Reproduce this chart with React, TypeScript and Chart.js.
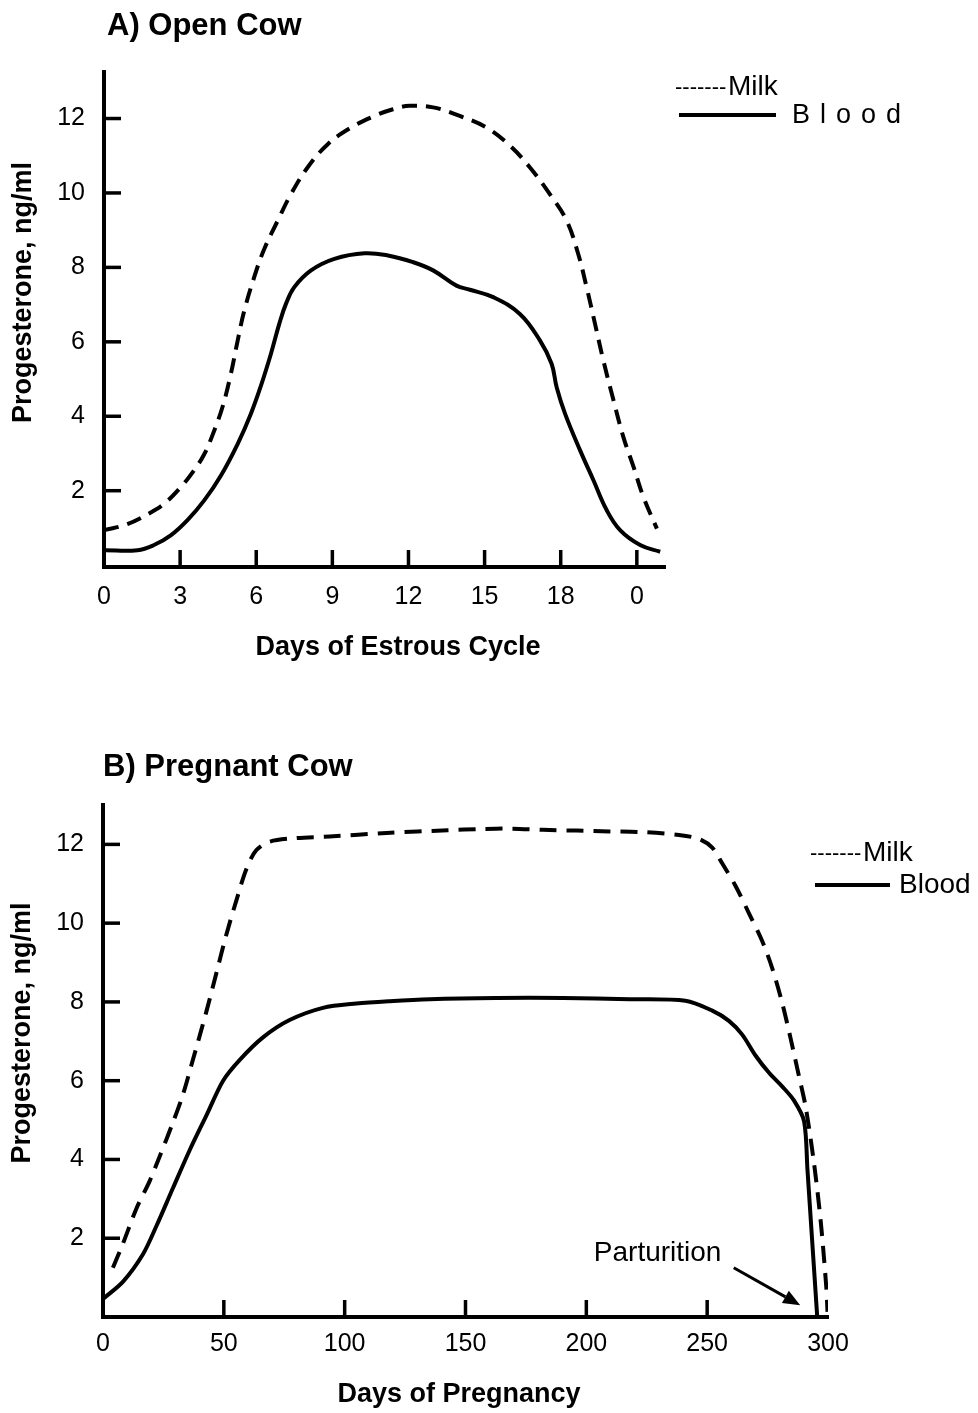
import React, { useEffect, useRef } from "react";
import { Chart, registerables } from "chart.js";

Chart.register(...registerables);

const FONT = '"Liberation Sans", Arial, Helvetica, sans-serif';

// ---------- text ----------
const A_TITLE = "A) Open Cow";
const B_TITLE = "B) Pregnant Cow";
const Y_TITLE = "Progesterone, ng/ml";
const A_X_TITLE = "Days of Estrous Cycle";
const B_X_TITLE = "Days of Pregnancy";
const MILK_LABEL = "Milk";
const BLOOD_LABEL = "Blood";
const LEGEND_DASHES = "-------";
const PARTURITION = "Parturition";

// ---------- ticks ----------
const Y_TICKS = [2, 4, 6, 8, 10, 12];
const A_X_TICKS = [0, 3, 6, 9, 12, 15, 18, 21];
const A_X_TICK_LABELS = ["0", "3", "6", "9", "12", "15", "18", "0"];
const B_X_TICKS = [0, 50, 100, 150, 200, 250, 300];
const B_X_TICK_LABELS = ["0", "50", "100", "150", "200", "250", "300"];

// ---------- A) Open cow (days of estrous cycle) ----------
const A_MILK_DAYS = [0, 0.92, 1.78, 2.37, 3.03, 3.55, 3.95, 4.28, 4.67, 5.0, 5.27, 5.53, 5.92, 6.32, 6.85, 7.37, 8.03, 8.82, 9.74, 10.66, 11.39, 12.05, 12.97, 14.02, 15.07, 16.0, 16.78, 17.57, 18.23, 18.69, 19.02, 19.35, 19.68, 20.08, 20.47, 20.87, 21.26, 21.79];
const A_MILK = [0.94, 1.1, 1.39, 1.65, 2.1, 2.55, 2.98, 3.5, 4.25, 5.14, 6.04, 6.84, 7.74, 8.5, 9.26, 9.97, 10.69, 11.31, 11.76, 12.07, 12.25, 12.34, 12.3, 12.07, 11.76, 11.27, 10.69, 9.97, 9.26, 8.36, 7.47, 6.49, 5.5, 4.43, 3.44, 2.64, 1.83, 0.98];
const A_BLOOD_DAYS = [0, 1.32, 1.97, 2.63, 3.29, 3.95, 4.61, 5.27, 5.79, 6.19, 6.58, 6.91, 7.17, 7.5, 8.16, 9.08, 10.27, 11.19, 12.18, 12.97, 13.89, 14.42, 15.34, 16.39, 17.18, 17.64, 17.84, 18.17, 18.76, 19.29, 19.81, 20.34, 21.13, 21.92];
const A_BLOOD = [0.4, 0.4, 0.54, 0.8, 1.21, 1.74, 2.41, 3.26, 4.07, 4.83, 5.68, 6.49, 7.02, 7.47, 7.92, 8.23, 8.38, 8.32, 8.14, 7.92, 7.51, 7.4, 7.2, 6.75, 6.04, 5.41, 4.78, 4.07, 3.09, 2.28, 1.48, 0.94, 0.54, 0.36];

// ---------- B) Pregnant cow (days of pregnancy) ----------
const B_MILK_DAYS = [4.1, 8.3, 13.8, 19.3, 23.4, 29.0, 33.1, 37.2, 42.8, 46.9, 51.0, 55.2, 59.3, 63.4, 69.0, 80.0, 93.8, 117.3, 142.7, 155.9, 169.0, 182.0, 195.9, 209.6, 224.4, 238.3, 246.5, 252.1, 256.2, 261.7, 267.3, 272.8, 277.0, 281.1, 284.5, 288.0, 290.8, 294.2, 297.0, 299.3, 299.8];
const B_MILK = [1.25, 1.87, 2.75, 3.45, 4.07, 4.95, 5.65, 6.53, 7.76, 8.73, 9.7, 10.58, 11.37, 11.85, 12.07, 12.16, 12.2, 12.29, 12.36, 12.39, 12.4, 12.37, 12.35, 12.33, 12.31, 12.24, 12.14, 11.92, 11.52, 10.95, 10.25, 9.54, 8.84, 7.96, 7.08, 6.11, 5.32, 3.91, 2.42, 0.75, 0.13];
const B_BLOOD_DAYS = [0, 8.3, 16.6, 22.1, 29.0, 35.9, 42.8, 49.7, 56.6, 66.2, 77.2, 91.0, 104.8, 118.6, 135.2, 162.8, 190.3, 217.9, 241.0, 252.1, 259.0, 264.5, 270.0, 275.6, 281.1, 285.9, 290.1, 291.5, 293.4, 295.5];
const B_BLOOD = [0.46, 0.9, 1.6, 2.31, 3.28, 4.24, 5.12, 6.0, 6.53, 7.1, 7.54, 7.85, 7.96, 8.02, 8.07, 8.1, 8.1, 8.07, 8.03, 7.78, 7.52, 7.17, 6.64, 6.2, 5.85, 5.5, 4.97, 3.74, 1.98, 0.04];

// annotation anchors (data units)
const PARTURITION_TEXT_AT = [229.5, 1.63];
const PARTURITION_ARROW = [[261, 1.25], [288.5, 0.3]];

function pts(xs: number[], ys: number[]) {
  return xs.map((x, i) => ({ x, y: ys[i] }));
}

function drawText(ctx: CanvasRenderingContext2D, s: string, x: number, y: number, font: string, align: CanvasTextAlign = "left", spacing = 0) {
  ctx.save();
  ctx.font = font;
  ctx.fillStyle = "#000";
  ctx.textAlign = align;
  ctx.textBaseline = "middle";
  if (spacing) (ctx as any).letterSpacing = spacing + "px";
  ctx.fillText(s, x, y);
  ctx.restore();
}

function line(ctx: CanvasRenderingContext2D, x1: number, y1: number, x2: number, y2: number, w: number) {
  ctx.save();
  ctx.strokeStyle = "#000";
  ctx.lineWidth = w;
  ctx.lineCap = "butt";
  ctx.beginPath();
  ctx.moveTo(x1, y1);
  ctx.lineTo(x2, y2);
  ctx.stroke();
  ctx.restore();
}

type Panel = {
  milk: { x: number; y: number }[];
  blood: { x: number; y: number }[];
  xMax: number;
  yMin: number;
  yMax: number;
  xTicks: number[];
  xTickLabels: string[];
  dash: number[];
  tension: number;
  pad: { top: number; right: number };
  yWidth: number;
  xHeight: number;
  xTickPad: number;
  decorate: (chart: any) => void;
};

function inwardTicks(chart: any, xTicks: number[]) {
  const { ctx, chartArea: a, scales } = chart;
  const x = scales.x;
  const y = scales.y;
  for (const v of xTicks) {
    if (v <= x.min || v >= x.max) continue;
    const px = x.getPixelForValue(v);
    line(ctx, px, a.bottom, px, a.bottom - 17, 3.5);
  }
  for (const v of Y_TICKS) {
    const py = y.getPixelForValue(v);
    line(ctx, a.left, py, a.left + 17, py, 3.5);
  }
}

function buildConfig(p: Panel): any {
  return {
    type: "line",
    data: {
      datasets: [
        { label: MILK_LABEL, data: p.milk, borderColor: "#000", borderWidth: 4, borderDash: p.dash, borderCapStyle: "butt", pointRadius: 0, fill: false, tension: p.tension },
        { label: BLOOD_LABEL, data: p.blood, borderColor: "#000", borderWidth: 4, pointRadius: 0, fill: false, tension: p.tension },
      ],
    },
    options: {
      responsive: false,
      animation: false,
      devicePixelRatio: 1,
      events: [],
      layout: { padding: { top: p.pad.top, right: p.pad.right, left: 0, bottom: 0 } },
      plugins: { legend: { display: false }, tooltip: { enabled: false }, title: { display: false } },
      scales: {
        x: {
          type: "linear",
          min: 0,
          max: p.xMax,
          afterBuildTicks: (s: any) => { s.ticks = p.xTicks.map((v) => ({ value: v })); },
          afterFit: (s: any) => { s.height = p.xHeight; },
          grid: { display: false, drawTicks: false },
          border: { display: true, color: "#000", width: 4 },
          ticks: {
            color: "#000",
            font: { family: FONT, size: 25 },
            padding: p.xTickPad,
            autoSkip: false,
            maxRotation: 0,
            callback: (_v: any, i: number) => p.xTickLabels[i],
          },
        },
        y: {
          type: "linear",
          min: p.yMin,
          max: p.yMax,
          afterBuildTicks: (s: any) => { s.ticks = Y_TICKS.map((v) => ({ value: v })); },
          afterFit: (s: any) => { s.width = p.yWidth; },
          grid: { display: false, drawTicks: false },
          border: { display: true, color: "#000", width: 4 },
          ticks: { color: "#000", font: { family: FONT, size: 25 }, padding: 19, autoSkip: false },
        },
      },
    },
    plugins: [
      {
        id: "decor",
        afterDraw: (chart: any) => {
          inwardTicks(chart, p.xTicks);
          p.decorate(chart);
        },
      },
    ],
  };
}

function yTitle(chart: any, offset: number) {
  const { ctx, chartArea: a } = chart;
  ctx.save();
  ctx.translate(a.left - 80, (a.top + a.bottom) / 2 + offset);
  ctx.rotate(-Math.PI / 2);
  drawText(ctx, Y_TITLE, 0, 0, `bold 27px ${FONT}`, "center");
  ctx.restore();
}

const panelA: Panel = {
  milk: pts(A_MILK_DAYS, A_MILK),
  blood: pts(A_BLOOD_DAYS, A_BLOOD),
  xMax: 22.11,
  yMin: -0.05,
  yMax: 13.25,
  xTicks: A_X_TICKS,
  xTickLabels: A_X_TICK_LABELS,
  dash: [15, 9],
  tension: 0.4,
  pad: { top: 72, right: 313 },
  yWidth: 104,
  xHeight: 133,
  xTickPad: 15,
  decorate: (chart: any) => {
    const { ctx, chartArea: a } = chart;
    drawText(ctx, A_TITLE, a.left + 3, a.top - 46, `bold 31px ${FONT}`);
    yTitle(chart, -27);
    drawText(ctx, A_X_TITLE, a.left + 0.524 * (a.right - a.left), a.bottom + 81, `bold 27px ${FONT}`, "center");
    // legend
    drawText(ctx, LEGEND_DASHES, a.right + 10, a.top + 16, `22px ${FONT}`);
    drawText(ctx, MILK_LABEL, a.right + 63, a.top + 15, `28px ${FONT}`);
    line(ctx, a.right + 14, a.top + 43, a.right + 111, a.top + 43, 4);
    drawText(ctx, BLOOD_LABEL, a.right + 127, a.top + 44, `27px ${FONT}`, "left", 10);
  },
};

const panelB: Panel = {
  milk: pts(B_MILK_DAYS, B_MILK),
  blood: pts(B_BLOOD_DAYS, B_BLOOD),
  xMax: 300,
  yMin: 0,
  yMax: 13,
  xTicks: B_X_TICKS,
  xTickLabels: B_X_TICK_LABELS,
  dash: [17, 10],
  tension: 0.3,
  pad: { top: 105, right: 150 },
  yWidth: 103,
  xHeight: 96,
  xTickPad: 12,
  decorate: (chart: any) => {
    const { ctx, chartArea: a, scales } = chart;
    const x = scales.x;
    const y = scales.y;
    drawText(ctx, B_TITLE, a.left, a.top - 38, `bold 31px ${FONT}`);
    yTitle(chart, -28);
    drawText(ctx, B_X_TITLE, a.left + 0.491 * (a.right - a.left), a.bottom + 78, `bold 27px ${FONT}`, "center");
    // legend
    drawText(ctx, LEGEND_DASHES, a.right - 18, a.top + 49, `22px ${FONT}`);
    drawText(ctx, MILK_LABEL, a.right + 35, a.top + 48, `28px ${FONT}`);
    line(ctx, a.right - 13, a.top + 80, a.right + 62, a.top + 80, 4);
    drawText(ctx, BLOOD_LABEL, a.right + 71, a.top + 80, `28px ${FONT}`);
    // parturition annotation
    drawText(ctx, PARTURITION, x.getPixelForValue(PARTURITION_TEXT_AT[0]), y.getPixelForValue(PARTURITION_TEXT_AT[1]), `28px ${FONT}`, "center");
    const [s, e] = PARTURITION_ARROW;
    const x1 = x.getPixelForValue(s[0]);
    const y1 = y.getPixelForValue(s[1]);
    const x2 = x.getPixelForValue(e[0]);
    const y2 = y.getPixelForValue(e[1]);
    const ang = Math.atan2(y2 - y1, x2 - x1);
    const hl = 17;
    const hw = 7;
    const bx = x2 - hl * Math.cos(ang);
    const by = y2 - hl * Math.sin(ang);
    line(ctx, x1, y1, bx, by, 3);
    ctx.save();
    ctx.fillStyle = "#000";
    ctx.beginPath();
    ctx.moveTo(x2, y2);
    ctx.lineTo(bx + hw * Math.sin(ang), by - hw * Math.cos(ang));
    ctx.lineTo(bx - hw * Math.sin(ang), by + hw * Math.cos(ang));
    ctx.closePath();
    ctx.fill();
    ctx.restore();
  },
};

function ChartCanvas({ panel, width, height }: { panel: Panel; width: number; height: number }) {
  const ref = useRef<HTMLCanvasElement | null>(null);
  useEffect(() => {
    if (!ref.current) return;
    const chart = new Chart(ref.current, buildConfig(panel));
    return () => chart.destroy();
  }, [panel]);
  return <canvas ref={ref} width={width} height={height} style={{ display: "block", width, height }} />;
}

export default function App() {
  return (
    <div style={{ position: "absolute", left: 0, top: 0, width: 978, height: 1413, background: "#fff" }}>
      <ChartCanvas panel={panelA} width={978} height={700} />
      <ChartCanvas panel={panelB} width={978} height={713} />
    </div>
  );
}
